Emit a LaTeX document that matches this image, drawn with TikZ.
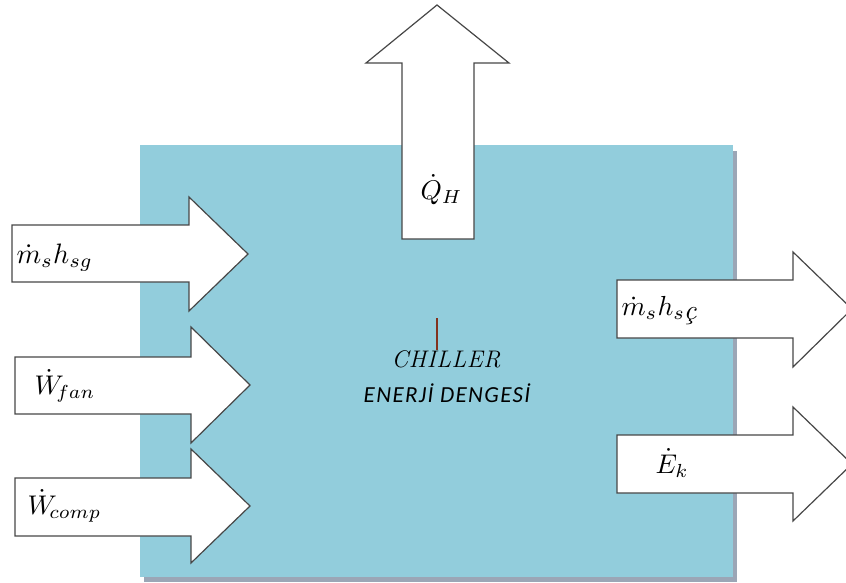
\documentclass[tikz,border=0pt]{standalone}
\usepackage{fontspec}
\newfontfamily\calib[LetterSpace=6]{Carlito}
\begin{document}
\begin{tikzpicture}[x=1pt,y=-1pt,
  arr/.style={fill=white,draw=black!72,line width=1.2pt,line join=miter},
  lbl/.style={inner sep=0pt,anchor=base west,scale=2.7,font=\normalsize}]
\clip (0,0) rectangle (846,583);
\fill[white] (0,0) rectangle (846,583);
% shadow and box
\fill[color={rgb,255:red,155;green,166;blue,182}] (144,151) rectangle (737,582);
\fill[color={rgb,255:red,146;green,205;blue,220}] (140,145) rectangle (733,577);
% arrows
\draw[arr] (12,225)--(189,225)--(189,197)--(248,254)--(189,311)--(189,282)--(12,282)--cycle;
\draw[arr] (15,357)--(191,357)--(191,327)--(250,385)--(191,443)--(191,414)--(15,414)--cycle;
\draw[arr] (15,478)--(191,478)--(191,449)--(250,506)--(191,563)--(191,536)--(15,536)--cycle;
\draw[arr] (402,239)--(402,63)--(366,63)--(437,5)--(509,63)--(474,63)--(474,239)--cycle;
\draw[arr] (617,280)--(793,280)--(793,252)--(852,309)--(793,367)--(793,338)--(617,338)--cycle;
\draw[arr] (617,435)--(793,435)--(793,407)--(852,464)--(793,521)--(793,493)--(617,493)--cycle;
% labels
\node[lbl,scale=1.04] (msg) at (16,263) {$\dot m_s h_{sg}$};
\node[lbl] (wfan) at (34,394) {$\dot W_{\!fan}$};
\node[lbl] (wcomp) at (27,514) {$\dot W_{\!comp}$};
\node[lbl] (qh) at (420,199) {$\dot Q_H$};
\node[lbl,scale=1.02] (msc) at (621,315) {$\dot m_s h_{s\textit{ç}}$};
\node[lbl] (ek) at (655,473) {$\dot E_k$};
\node[inner sep=0pt,anchor=base,font=\fontsize{24}{26}\selectfont\itshape] (ch) at (446,367) {C\kern0.5pt H\kern0.5pt I\kern0.5pt L\kern0.5pt L\kern0.5pt E\kern0.5pt R};
\node[inner sep=0pt,anchor=base,font=\fontsize{23}{26}\selectfont\calib\itshape] (en) at (447,402) {ENERJİ DENGESİ};
\draw[color={rgb,255:red,130;green,50;blue,30},line width=1.8pt] (437,318)--(437,350);
\end{tikzpicture}
\end{document}
